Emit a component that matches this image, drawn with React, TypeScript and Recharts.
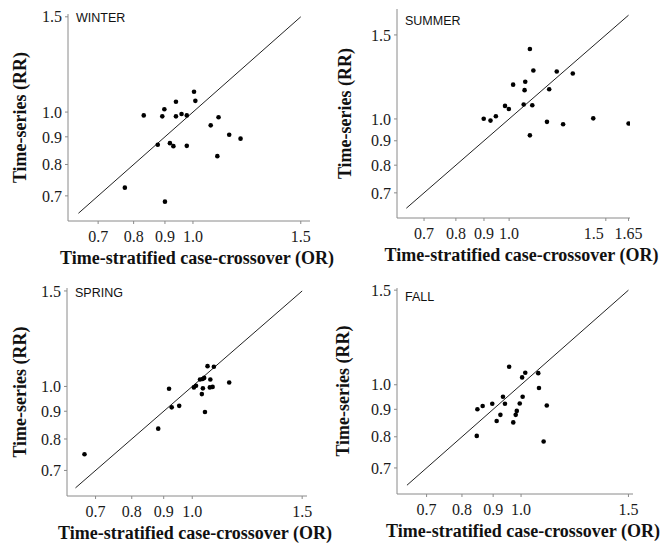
import { ScatterChart, Scatter, XAxis, YAxis, ReferenceLine } from "recharts";

// odds ratios (x) and relative risks (y), one pair of arrays per season
const winterOR = [0.831, 0.891, 0.898, 0.938, 0.938, 0.958, 0.977, 1.004, 1.009, 1.069, 1.101, 1.146, 1.196, 1.096, 0.876, 0.917, 0.929, 0.977, 0.774, 0.9];
const winterRR = [0.986, 0.982, 1.012, 1.045, 0.982, 0.992, 0.986, 1.09, 1.049, 0.945, 0.978, 0.908, 0.893, 0.829, 0.87, 0.876, 0.865, 0.866, 0.725, 0.683];

const summerOR = [0.899, 0.925, 0.946, 0.983, 0.999, 1.017, 1.063, 1.067, 1.07, 1.091, 1.107, 1.102, 1.091, 1.172, 1.183, 1.221, 1.254, 1.306, 1.423, 1.65];
const summerRR = [1.001, 0.992, 1.013, 1.065, 1.049, 1.18, 1.072, 1.149, 1.197, 1.402, 1.263, 1.068, 0.924, 0.986, 1.154, 1.257, 0.975, 1.245, 1.003, 0.978];

const springOR = [0.672, 0.882, 0.918, 0.927, 0.953, 1.006, 1.014, 1.029, 1.039, 1.045, 1.058, 1.083, 1.069, 1.04, 1.036, 1.067, 1.078, 1.146, 1.048];
const springRR = [0.75, 0.836, 0.99, 0.915, 0.921, 0.996, 1.003, 1.03, 1.032, 1.037, 1.09, 1.087, 1.03, 0.992, 0.968, 0.996, 0.998, 1.017, 0.897];

const fallOR = [0.848, 0.846, 0.865, 0.897, 0.912, 0.925, 0.934, 0.941, 0.956, 0.971, 0.98, 0.984, 0.995, 1.004, 1.006, 1.016, 1.067, 1.07, 1.102, 1.089];
const fallRR = [0.9, 0.803, 0.913, 0.922, 0.856, 0.879, 0.95, 0.922, 1.08, 0.851, 0.879, 0.894, 0.923, 1.032, 0.95, 1.053, 1.051, 0.986, 0.915, 0.784];

const yTicks = [0.7, 0.8, 0.9, 1.0, 1.5];
const xTicks = [0.7, 0.8, 0.9, 1.0, 1.5];
const summerXTicks = [0.7, 0.8, 0.9, 1.0, 1.5, 1.65];

// identity line end points
const diagonal = [0.65, 1.5];
const summerDiagonal = [0.65, 1.65];

const X_TITLE = "Time-stratified case-crossover (OR)";
const Y_TITLE = "Time-series (RR)";

const serif = "'Liberation Serif', 'Times New Roman', serif";
const axisGray = "#8a8a8a";

const fmt = (v: number) => (v === 1.65 ? "1.65" : v.toFixed(1));

type PanelProps = {
  season: string;
  seasonY: number;
  or: number[];
  rr: number[];
  left: number;
  top: number;
  width: number;
  xDomain: [number, number];
  yDomain: [number, number];
  xTickValues: number[];
  line: number[];
  margin: { top: number; right: number };
  yAxisWidth: number;
  xAxisHeight: number;
  yTitleX: number;
  tickShift?: Record<string, number>;
};

function Panel(p: PanelProps) {
  const points = p.or.map((x, i) => ({ x, y: p.rr[i] }));
  const height = 273;
  const plotTop = p.margin.top;
  const plotBottom = height - p.xAxisHeight;
  const plotLeft = p.yAxisWidth;

  const XTick = (t: any) => {
    const v = t.payload.value;
    return (
      <text x={t.x + (p.tickShift?.[String(v)] ?? 0)} y={t.y} dy="0.71em" textAnchor="middle" fontFamily={serif} fontSize={16} fill="#1a1a1a">
        {fmt(v)}
      </text>
    );
  };

  return (
    <div style={{ position: "absolute", left: p.left, top: p.top }}>
      <ScatterChart width={p.width} height={height} margin={{ top: p.margin.top, right: p.margin.right, left: 0, bottom: 0 }}>
        <XAxis
          type="number"
          dataKey="x"
          scale="log"
          domain={p.xDomain}
          allowDataOverflow
          ticks={p.xTickValues}
          interval={0}
          tick={XTick}
          height={p.xAxisHeight}
          stroke={axisGray}
          tickSize={3}
          tickMargin={7}
          label={{
            content: (lp: any) => {
              const vb = lp.viewBox;
              return (
                <text x={vb.x + vb.width / 2 + 8} y={plotBottom + 43} textAnchor="middle" fontFamily={serif} fontWeight="bold" fontSize={18} fill="#111">
                  {X_TITLE}
                </text>
              );
            },
          }}
        />
        <YAxis
          type="number"
          dataKey="y"
          scale="log"
          domain={p.yDomain}
          allowDataOverflow
          ticks={yTicks}
          interval={0}
          tickFormatter={fmt}
          width={p.yAxisWidth}
          stroke={axisGray}
          tickSize={3}
          tickMargin={3}
          tick={{ fontFamily: serif, fontSize: 16, fill: "#1a1a1a" }}
          label={{
            content: () => {
              const cy = (plotTop + plotBottom) / 2;
              return (
                <text
                  x={p.yTitleX}
                  y={cy}
                  transform={`rotate(-90, ${p.yTitleX}, ${cy})`}
                  textAnchor="middle"
                  dominantBaseline="central"
                  fontFamily={serif}
                  fontWeight="bold"
                  fontSize={18}
                  fill="#111"
                >
                  {Y_TITLE}
                </text>
              );
            },
          }}
        />
        <ReferenceLine
          segment={[
            { x: p.line[0], y: p.line[0] },
            { x: p.line[1], y: p.line[1] },
          ]}
          stroke="#222"
          strokeWidth={1}
        />
        <Scatter
          data={points}
          isAnimationActive={false}
          shape={(s: any) => <circle cx={s.cx} cy={s.cy} r={2.3} fill="#000" />}
        />
        <text x={plotLeft + 8} y={p.seasonY} fontFamily="'Liberation Sans', Arial, sans-serif" fontSize={12.5} fill="#111">
          {p.season}
        </text>
      </ScatterChart>
    </div>
  );
}

export default function App() {
  return (
    <div style={{ position: "absolute", left: 0, top: 0, width: 663, height: 546, background: "#fff" }}>
      <style>{".recharts-surface{overflow:visible}"}</style>
      <Panel
        season="WINTER"
        seasonY={22}
        or={winterOR}
        rr={winterRR}
        left={0}
        top={0}
        width={331}
        xDomain={[0.625, 1.553]}
        yDomain={[0.629, 1.518]}
        xTickValues={xTicks}
        line={diagonal}
        margin={{ top: 14, right: 21 }}
        yAxisWidth={68}
        xAxisHeight={52}
        yTitleX={20}
      />
      <Panel
        season="SUMMER"
        seasonY={25}
        or={summerOR}
        rr={summerRR}
        left={331}
        top={0}
        width={332}
        xDomain={[0.625, 1.66]}
        yDomain={[0.62, 1.7]}
        xTickValues={summerXTicks}
        line={summerDiagonal}
        margin={{ top: 9, right: 33 }}
        yAxisWidth={66}
        xAxisHeight={55}
        yTitleX={14}
        tickShift={{ "1.5": -12 }}
      />
      <Panel
        season="SPRING"
        seasonY={24}
        or={springOR}
        rr={springRR}
        left={0}
        top={273}
        width={331}
        xDomain={[0.63, 1.527]}
        yDomain={[0.628, 1.519]}
        xTickValues={xTicks}
        line={diagonal}
        margin={{ top: 15, right: 24 }}
        yAxisWidth={67}
        xAxisHeight={50}
        yTitleX={20}
      />
      <Panel
        season="FALL"
        seasonY={28}
        or={fallOR}
        rr={fallRR}
        left={331}
        top={273}
        width={332}
        xDomain={[0.626, 1.526]}
        yDomain={[0.626, 1.514]}
        xTickValues={xTicks}
        line={diagonal}
        margin={{ top: 15, right: 30 }}
        yAxisWidth={66}
        xAxisHeight={52}
        yTitleX={12}
      />
    </div>
  );
}
